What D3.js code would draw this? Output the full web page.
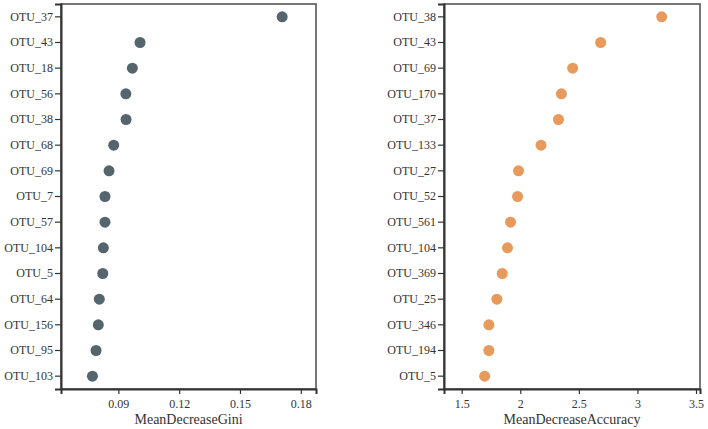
<!DOCTYPE html>
<html>
<head>
<meta charset="utf-8">
<script src="https://cdn.jsdelivr.net/npm/d3@7"></script>
<style>
  body { margin: 0; background: #fff; }
  svg { display: block; font-family: "Liberation Serif", "Times New Roman", serif; }
  .tick text { fill: #333; }
</style>
</head>
<body>
<svg width="708" height="429"></svg>
<script>
let giniNames = ["OTU_37", "OTU_43", "OTU_18", "OTU_56", "OTU_38", "OTU_68", "OTU_69", "OTU_7",
                 "OTU_57", "OTU_104", "OTU_5", "OTU_64", "OTU_156", "OTU_95", "OTU_103"];
let giniValues = [0.1708, 0.1007, 0.0969, 0.0937, 0.0938, 0.0877, 0.0854, 0.0834,
                  0.0834, 0.0826, 0.0823, 0.0806, 0.0801, 0.0790, 0.0772];
let giniTicks = [0.09, 0.12, 0.15, 0.18];

let accNames = ["OTU_38", "OTU_43", "OTU_69", "OTU_170", "OTU_37", "OTU_133", "OTU_27", "OTU_52",
                "OTU_561", "OTU_104", "OTU_369", "OTU_25", "OTU_346", "OTU_194", "OTU_5"];
let accValues = [3.207, 2.686, 2.447, 2.351, 2.326, 2.177, 1.985, 1.977,
                 1.917, 1.891, 1.846, 1.800, 1.732, 1.732, 1.696];
let accTicks = [1.5, 2, 2.5, 3, 3.5];

let svg = d3.select("svg");

let plotTop = 4, plotBottom = 389;

function panel(names, values, ticks, domain, x0, x1, color, title, fmt) {
  let g = svg.append("g");

  let x = d3.scaleLinear().domain(domain).range([x0, x1]),
      y = d3.scaleBand().domain(names).range([plotTop, plotBottom]);

  // frame
  g.append("rect")
      .attr("x", x0).attr("y", plotTop)
      .attr("width", x1 - x0).attr("height", plotBottom - plotTop)
      .attr("fill", "none")
      .attr("stroke", "#555")
      .attr("stroke-width", 1.6);

  let yAxis = g.append("g")
      .attr("transform", "translate(" + x0 + ",0)")
      .call(d3.axisLeft(y).tickSize(6).tickPadding(2))
      .attr("font-family", null);
  yAxis.select(".domain").attr("stroke", "#333").attr("stroke-width", 2);
  yAxis.selectAll(".tick line").attr("stroke", "#333").attr("stroke-width", 1.2);
  yAxis.selectAll(".tick text").style("font-size", "12px");

  let xAxis = g.append("g")
      .attr("transform", "translate(0," + plotBottom + ")")
      .call(d3.axisBottom(x).tickValues(ticks).tickFormat(fmt).tickSize(5).tickPadding(5))
      .attr("font-family", null);
  xAxis.select(".domain").attr("stroke", "#333").attr("stroke-width", 2);
  xAxis.selectAll(".tick line").attr("stroke", "#333").attr("stroke-width", 1.2);
  xAxis.selectAll(".tick text").style("font-size", "12px");

  g.selectAll("circle")
      .data(values)
    .enter().append("circle")
      .attr("cx", function(d) { return x(d); })
      .attr("cy", function(d, i) { return y(names[i]) + y.bandwidth() / 2; })
      .attr("r", 5.5)
      .attr("fill", color);

  g.append("text")
      .attr("x", (x0 + x1) / 2)
      .attr("y", 424)
      .attr("text-anchor", "middle")
      .attr("fill", "#333")
      .style("font-size", "14px")
      .text(title);
}

panel(giniNames, giniValues, giniTicks, [0.0617, 0.1875], 61, 316, "#55656e",
      "MeanDecreaseGini", d3.format(".2f"));
panel(accNames, accValues, accTicks, [1.349, 3.534], 444, 700, "#e89a5c",
      "MeanDecreaseAccuracy", function(d) { return String(d); });
</script>
</body>
</html>
